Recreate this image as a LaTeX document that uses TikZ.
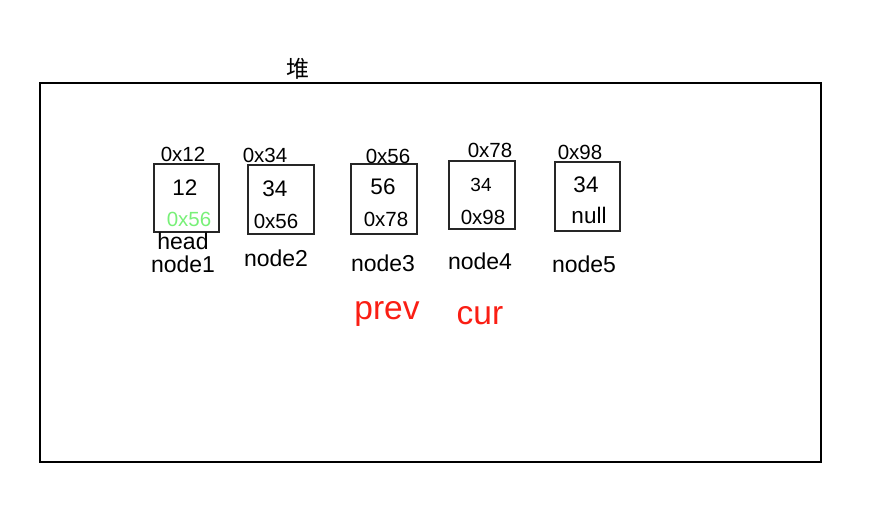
\documentclass[tikz,border=0pt]{standalone}
\usepackage{fontspec}
\setmainfont{Liberation Sans}
\newfontfamily\cjk{Noto Sans CJK SC}
\definecolor{lgreen}{RGB}{120,240,120}
\definecolor{redtxt}{RGB}{250,30,20}
\begin{document}
\begin{tikzpicture}[x=1pt,y=-1pt,
  box/.style={draw=black!85,line width=1.3pt},
  t/.style={inner sep=0pt,anchor=center,font=\fontsize{20.5}{24}\selectfont},
  tb/.style={inner sep=0pt,anchor=center,font=\fontsize{22.5}{26}\selectfont},
  lab/.style={inner sep=0pt,anchor=center,font=\fontsize{23}{26}\selectfont},
  big/.style={inner sep=0pt,anchor=center,text=redtxt,font=\fontsize{33.5}{38}\selectfont}]
\useasboundingbox (0,0) rectangle (873,519);
\draw[line width=2pt] (40,83) rectangle (821,462);
\node[inner sep=0pt,font=\cjk\fontsize{23}{26}\selectfont] (heap) at (298,69) {堆};
% boxes
\draw[box] (154,164) rectangle (219,232);
\draw[box] (248,165) rectangle (314,234);
\draw[box] (351,164) rectangle (417,234);
\draw[box] (449,161) rectangle (515,229);
\draw[box] (555,162) rectangle (620,231);
% addresses
\node[t] (a1) at (183,154) {0x12};
\node[t] (a2) at (265,155) {0x34};
\node[t] (a3) at (388,156) {0x56};
\node[t] (a4) at (490,150) {0x78};
\node[t] (a5) at (580,152) {0x98};
% values
\node[tb] (v1) at (185,188) {12};
\node[tb] (v2) at (275,189) {34};
\node[tb] (v3) at (383,187) {56};
\node[t,font=\fontsize{19}{22}\selectfont] (v4) at (481,185) {34};
\node[tb] (v5) at (586,185) {34};
% next pointers
\node[t,text=lgreen] (n1) at (189,219) {0x56};
\node[t] (n2) at (276,221) {0x56};
\node[t] (n3) at (386,219) {0x78};
\node[t] (n4) at (483,217) {0x98};
\node[tb] (n5) at (589,215) {null};
% labels
\node[lab] (head) at (183,241) {head};
\node[lab] (l1) at (183,264) {node1};
\node[lab] (l2) at (276,258) {node2};
\node[lab] (l3) at (383,263) {node3};
\node[lab] (l4) at (480,261) {node4};
\node[lab] (l5) at (584,264) {node5};
\node[big] (prev) at (387,314) {prev};
\node[big] (cur) at (480,316) {cur};
\end{tikzpicture}
\end{document}
